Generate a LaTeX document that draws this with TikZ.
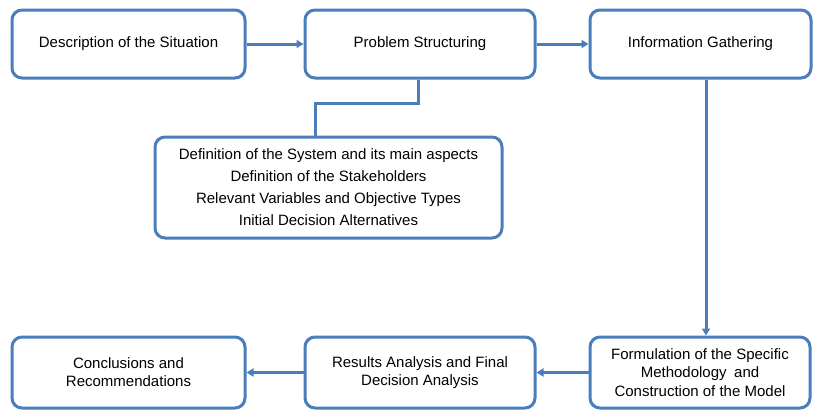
\documentclass[tikz,border=0pt]{standalone}
\usepackage{fontspec}
\setmainfont{Liberation Sans}
\usetikzlibrary{arrows.meta}
\definecolor{boxblue}{RGB}{74,126,187}
\tikzset{
  box/.style={draw=boxblue, line width=3pt, rounded corners=10pt, fill=white,
    inner sep=0pt, align=center, font=\fontsize{15}{18}\selectfont},
  conn/.style={draw=boxblue, line width=3pt},
  arr/.style={conn, -{Triangle[length=7pt,width=8pt]}}
}
\begin{document}
\begin{tikzpicture}[x=1pt,y=-1pt]
\useasboundingbox (0,0) rectangle (814,413);
\node[box, minimum width=233pt, minimum height=68pt] (b1) at (128.5,44) {Description of the Situation};
\node[box, minimum width=230pt, minimum height=68pt] (b2) at (420,44) {Problem Structuring};
\node[box, minimum width=221pt, minimum height=68pt] (b3) at (700.5,44) {Information Gathering};
\node[box, minimum width=347pt, minimum height=101pt, font=\fontsize{15}{22}\selectfont] (b4) at (328.5,187.5)
  {Definition of the System and its main aspects\\Definition of the Stakeholders\\Relevant Variables and Objective Types\\Initial Decision Alternatives};
\node[box, minimum width=220pt, minimum height=71pt, font=\fontsize{15}{18.5}\selectfont] (b5) at (700,372.5)
  {Formulation of the Specific\\Methodology\enspace and\\Construction of the Model};
\node[box, minimum width=230pt, minimum height=71pt] (b6) at (420,372.5) {Results Analysis and Final\\Decision Analysis};
\node[box, minimum width=233pt, minimum height=71pt] (b7) at (128.5,372.5) {Conclusions and\\Recommendations};
\coordinate (k) at (315,103);
\draw[arr] (b1) -- (b2);
\draw[arr] (b2) -- (b3);
\draw[conn] ([xshift=-2pt]b2.south) |- (k) -- (k |- b4.north);
\draw[arr] ([xshift=5.5pt]b3.south) -- ([xshift=6pt]b5.north);
\draw[arr] (b5) -- (b6);
\draw[arr] (b6) -- (b7);
\end{tikzpicture}
\end{document}
